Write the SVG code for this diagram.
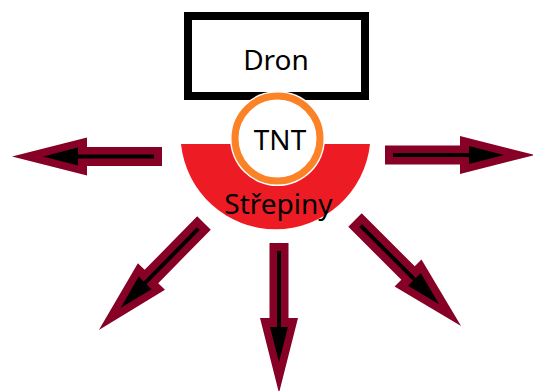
<svg xmlns="http://www.w3.org/2000/svg" xmlns:xlink="http://www.w3.org/1999/xlink" width="533" height="391" viewBox="0 0 533 391">
  <style>
    .lbl { font-family: "Noto Sans", "Open Sans", "DejaVu Sans", sans-serif; font-size: 28px; fill: #000; text-anchor: middle; }
    .outer { fill: #870026; }
    .inner { fill: #000; }
  </style>
  <defs>
    <g id="arrow">
      <polygon class="outer" points="0,-9.5 75,-9.5 75,-19 150,0 75,19 75,9.5 0,9.5"/>
      <polygon class="inner" points="8,-2 84,-2 84,-9 119,0 84,9 84,2 8,2"/>
    </g>
  </defs>
  <rect width="533" height="391" fill="#fff"/>

  <g id="strepiny">
    <path d="M181,144 A95,95 0 0 0 370,144 Z" fill="#ED1C24"/>
    <text class="lbl" x="278.5" y="214">Střepiny</text>
  </g>

  <g id="dron">
    <rect x="188" y="16" width="177" height="80" fill="#fff" stroke="#000" stroke-width="8"/>
    <text class="lbl" x="276" y="70">Dron</text>
  </g>

  <g id="tnt">
    <circle cx="277.5" cy="138.5" r="47.5" fill="#fff"/>
    <circle cx="277.5" cy="138.5" r="42.5" fill="#fff" stroke="#FB8226" stroke-width="7"/>
    <text class="lbl" x="280" y="150">TNT</text>
  </g>

  <g id="connectors">
    <use xlink:href="#arrow" transform="translate(162,156.5) rotate(180)"/>
    <use xlink:href="#arrow" transform="translate(385,155)"/>
    <use xlink:href="#arrow" transform="translate(279,243) rotate(90)"/>
    <use xlink:href="#arrow" transform="translate(204,223) rotate(134.5)"/>
    <use xlink:href="#arrow" transform="translate(355,220) rotate(45)"/>
  </g>
</svg>
